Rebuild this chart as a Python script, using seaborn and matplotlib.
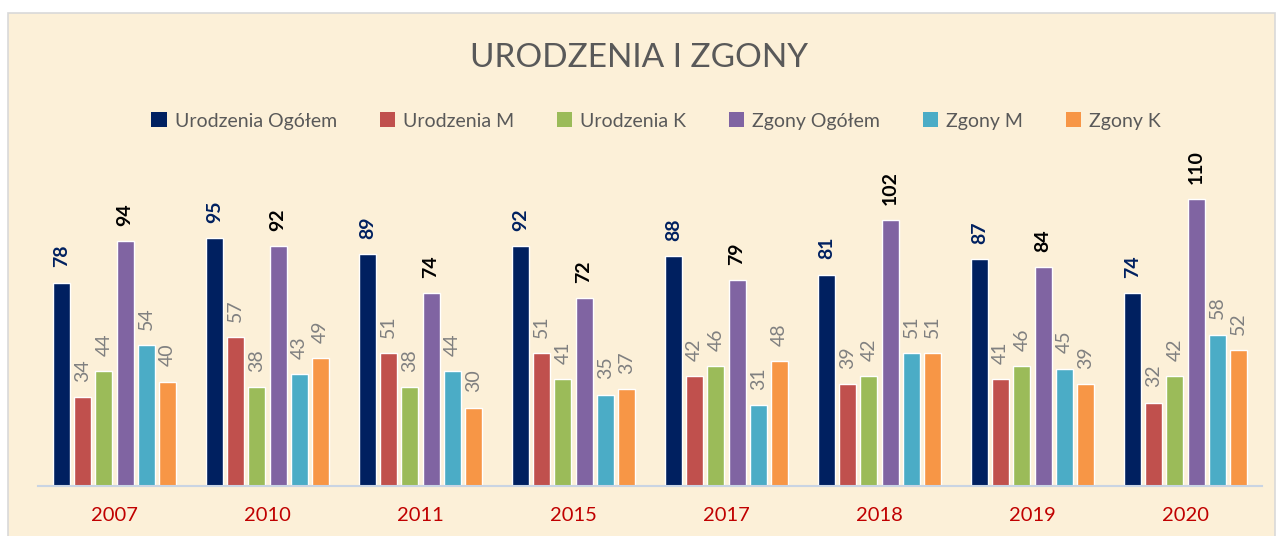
import pandas as pd
import matplotlib.pyplot as plt
import seaborn as sns
from matplotlib.patches import Rectangle, Patch

# data
years = ['2007', '2010', '2011', '2015', '2017', '2018', '2019', '2020']
series = ['Urodzenia Ogółem', 'Urodzenia M', 'Urodzenia K',
          'Zgony Ogółem', 'Zgony M', 'Zgony K']
urodzenia_ogolem = [78, 95, 89, 92, 88, 81, 87, 74]
urodzenia_m = [34, 57, 51, 51, 42, 39, 41, 32]
urodzenia_k = [44, 38, 38, 41, 46, 42, 46, 42]
zgony_ogolem = [94, 92, 74, 72, 79, 102, 84, 110]
zgony_m = [54, 43, 44, 35, 31, 51, 45, 58]
zgony_k = [40, 49, 30, 37, 48, 51, 39, 52]

colors = ['#002060', '#C0504D', '#9BBB59', '#8064A2', '#4BACC6', '#F79646']
label_colors = ['#002060', '#808080', '#808080', '#000000', '#808080', '#808080']
label_weights = ['bold', 'normal', 'normal', 'bold', 'normal', 'normal']


def main():
    values = [urodzenia_ogolem, urodzenia_m, urodzenia_k,
              zgony_ogolem, zgony_m, zgony_k]
    rows = []
    for name, vals in zip(series, values):
        for y, v in zip(years, vals):
            rows.append({'Rok': y, 'Seria': name, 'Liczba': v})
    df = pd.DataFrame(rows)

    sns.set_style('white')
    plt.rcParams['font.family'] = ['Lato', 'DejaVu Sans']

    fig = plt.figure(figsize=(12.79, 5.36), dpi=100)
    fig.patch.set_facecolor('white')
    # parchment-like chart area with a light frame
    fig.patches.append(Rectangle((8 / 1279, -0.01), 1267 / 1279, 1 - 13 / 536 + 0.01,
                                 transform=fig.transFigure, facecolor='#FCF0D8',
                                 edgecolor='#D9D9D9', linewidth=1.2, zorder=-5))

    ax = fig.add_axes([38 / 1279, 50 / 536, 1224 / 1279, 313 / 536])
    ax.set_zorder(2)
    ax.patch.set_alpha(0)
    sns.barplot(data=df, x='Rok', y='Liczba', hue='Seria', order=years,
                hue_order=series, palette=colors, width=0.83, gap=0.2,
                saturation=1, legend=False, ax=ax)

    for cont, vals, c, w in zip(ax.containers, values, label_colors, label_weights):
        ax.bar_label(cont, labels=[str(v) for v in vals], rotation=90, padding=11,
                     color=c, fontweight=w, fontsize=14)

    ax.set_ylim(0, 120)
    ax.set_xlim(-0.5, 7.5)
    ax.set_xlabel('')
    ax.set_ylabel('')
    ax.set_yticks([])
    for s in ['top', 'right', 'left']:
        ax.spines[s].set_visible(False)
    ax.spines['bottom'].set_color('#C9D4E3')
    ax.spines['bottom'].set_linewidth(1.5)
    ax.tick_params(axis='x', length=0, pad=15, labelsize=14.5, labelcolor='#C00000')

    fig.text(0.5, 1 - 58 / 536, 'URODZENIA I ZGONY', ha='center', va='center',
             fontsize=24, color='#595959')

    handles = [Patch(facecolor=c, edgecolor='none') for c in colors]
    fig.legend(handles, series, loc='center', bbox_to_anchor=(0.513, 1 - 121 / 536),
               ncol=6, frameon=False, fontsize=14, labelcolor='#595959',
               handlelength=0.8, handleheight=0.8, handletextpad=0.4,
               columnspacing=2.2)

    fig.savefig('out.png', dpi=100)
    plt.close(fig)


if __name__ == '__main__':
    main()
